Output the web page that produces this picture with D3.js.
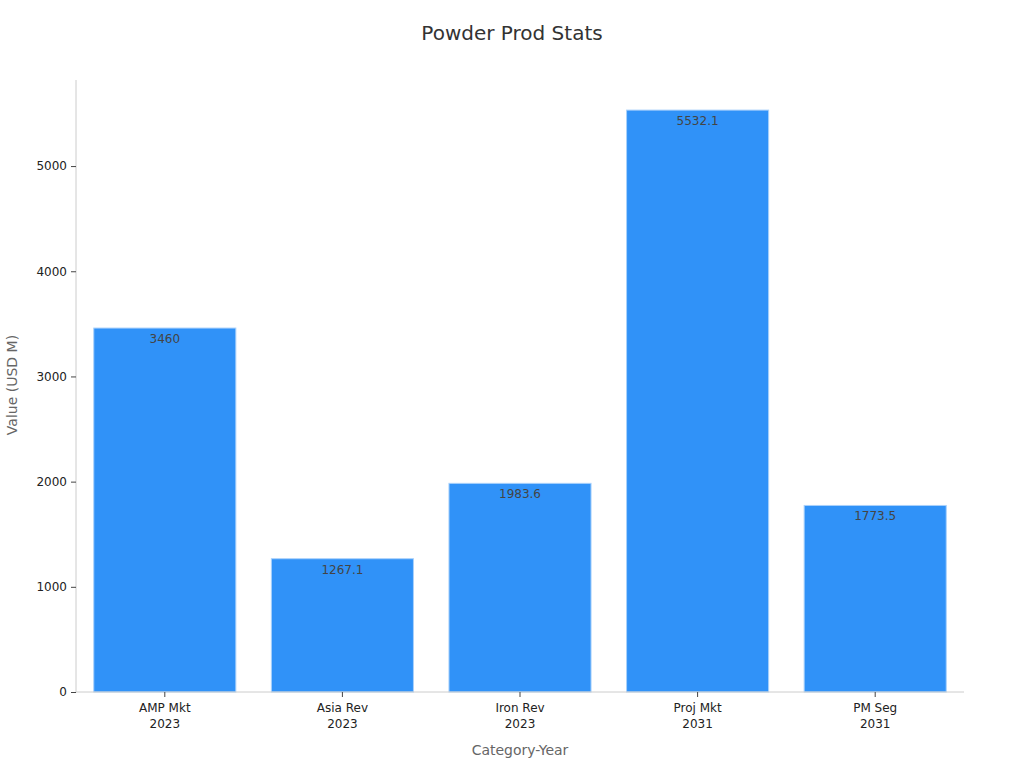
<!DOCTYPE html>
<html><head><meta charset="utf-8">
<script src="https://cdn.jsdelivr.net/npm/d3@7"></script>
<style>body{margin:0;background:#fff;font-family:"DejaVu Sans",sans-serif;}</style>
</head><body><svg id="c" width="1024" height="768"></svg>
<script>
const categories = ["AMP Mkt", "Asia Rev", "Iron Rev", "Proj Mkt", "PM Seg"];
const years = ["2023", "2023", "2023", "2031", "2031"];
const values = [3460, 1267.1, 1983.6, 5532.1, 1773.5];
const yTicks = [0, 1000, 2000, 3000, 4000, 5000];

const svg = d3.select("#c");
const m = {l: 76, r: 60, t: 81, b: 76};
const W = 1024, H = 768;
const x = d3.scaleBand().domain(categories).range([m.l, W - m.r]).paddingInner(0.2).paddingOuter(0.1);
const y = d3.scaleLinear().domain([0, d3.max(values) * 1.05]).range([H - m.b, m.t]);

svg.append("text").attr("x", 512).attr("y", 40).attr("text-anchor", "middle")
  .attr("font-size", 20).attr("fill", "#333").text("Powder Prod Stats");

const data = categories.map((c, i) => ({c, y: years[i], v: values[i]}));

svg.selectAll("rect.bar").data(data).enter().append("rect").attr("class", "bar")
  .attr("x", d => x(d.c)).attr("width", x.bandwidth())
  .attr("y", d => y(d.v)).attr("height", d => y(0) - y(d.v))
  .attr("fill", "#3092f8").attr("stroke", "#a9d1fb").attr("stroke-width", 1);

svg.selectAll("text.lbl").data(data).enter().append("text").attr("class", "lbl")
  .attr("x", d => x(d.c) + x.bandwidth() / 2).attr("y", d => y(d.v) + 15)
  .attr("text-anchor", "middle").attr("font-size", 12).attr("fill", "#444")
  .text(d => d.v);

const ya = svg.append("g").attr("transform", `translate(${m.l},0)`)
  .call(d3.axisLeft(y).tickValues(yTicks).tickFormat(d3.format("d")).tickSize(5).tickPadding(4));
ya.select(".domain").attr("stroke", "#ccc").attr("d", `M0,${H - m.b}V${m.t - 1}`);
ya.selectAll(".tick line").attr("stroke", "#444");
ya.selectAll(".tick text").attr("font-size", 12).attr("fill", "#222").attr("font-family", "DejaVu Sans");

const xa = svg.append("g").attr("transform", `translate(0,${H - m.b})`)
  .call(d3.axisBottom(x).tickSize(5).tickPadding(3).tickFormat(""));
xa.select(".domain").attr("stroke", "#ccc").attr("d", `M${m.l},0H${W - m.r}`);
xa.selectAll(".tick line").attr("stroke", "#444");
xa.selectAll(".tick").each(function(d, i) {
  const t = d3.select(this).append("text").attr("fill", "#222").attr("font-size", 12)
    .attr("text-anchor", "middle").attr("font-family", "DejaVu Sans");
  t.append("tspan").attr("x", 0).attr("y", 20).text(d);
  t.append("tspan").attr("x", 0).attr("y", 36).text(years[i]);
});

svg.append("text").attr("x", (m.l + W - m.r) / 2).attr("y", 755).attr("text-anchor", "middle")
  .attr("font-size", 14).attr("fill", "#666").text("Category-Year");
svg.append("text").attr("transform", "translate(17,385) rotate(-90)").attr("text-anchor", "middle")
  .attr("font-size", 14).attr("fill", "#666").text("Value (USD M)");
</script></body></html>
